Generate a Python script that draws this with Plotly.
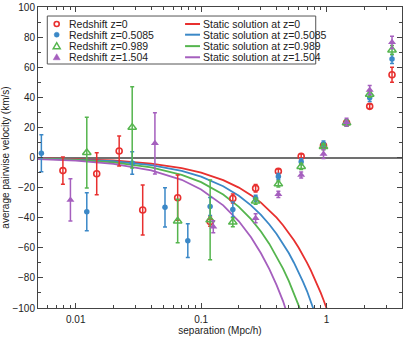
import plotly.graph_objects as go

FONT_FAMILY = "Liberation Sans, Arial, sans-serif"

REDSHIFTS = ["0", "0.5085", "0.989", "1.504"]
COLORS = ["#e8302f", "#3b88c7", "#55b54e", "#a55fbe"]

# measured average pairwise velocity (km/s) vs separation (Mpc/h)
SEP_Z0 = [0.0079, 0.0147, 0.0222, 0.0342, 0.065, 0.118, 0.179, 0.272, 0.413, 0.628, 0.946, 1.445, 2.21, 3.33]
VEL_Z0 = [-8.7, -10.8, 4.3, -34.9, -26.7, -42.6, -27.2, -20.5, -9.2, 0.8, 8.0, 23.0, 34.0, 55.0]
ERR_Z0 = [9.0, 14.0, 10.0, 16.6, 15.0, 3.0, 3.0, 2.5, 1.5, 1.5, 1.5, 1.5, 1.5, 5.0]

SEP_Z05 = [0.00532, 0.01225, 0.0282, 0.0515, 0.0783, 0.118, 0.179, 0.272, 0.413, 0.628, 0.946, 1.445, 2.21, 3.33]
VEL_Z05 = [2.8, -36.0, -3.6, -33.1, -55.3, -32.5, -34.5, -27.0, -12.7, -2.8, 9.0, 23.0, 39.7, 65.4]
ERR_Z05 = [12.3, 12.6, 7.5, 13.0, 11.2, 6.0, 5.0, 2.0, 2.0, 2.0, 2.0, 2.0, 2.5, 3.0]

SEP_Z1 = [0.01225, 0.0282, 0.065, 0.118, 0.179, 0.272, 0.413, 0.628, 0.946, 1.445, 2.21, 3.33]
VEL_Z1 = [3.2, 20.0, -42.2, -41.5, -43.0, -29.0, -17.6, -6.0, 7.2, 23.0, 42.0, 71.4]
ERR_Z1 = [23.5, 27.0, 14.5, 26.5, 3.0, 2.0, 2.0, 2.0, 2.0, 2.0, 2.0, 3.0]

SEP_Z15 = [0.00907, 0.0428, 0.125, 0.272, 0.413, 0.628, 0.946, 1.445, 2.21, 3.33]
VEL_Z15 = [-28.2, 9.4, -46.0, -40.4, -24.5, -11.6, 2.3, 23.5, 44.8, 76.5]
ERR_Z15 = [14.0, 20.3, 4.0, 3.0, 2.0, 2.0, 3.0, 2.5, 3.0, 4.0]

# static solution curves
SEP_STATIC = [0.005, 0.01, 0.02, 0.04, 0.07, 0.1, 0.15, 0.2, 0.25, 0.3, 0.35, 0.4, 0.45,
              0.5, 0.55, 0.6, 0.65, 0.7, 0.75, 0.8, 0.85, 0.9, 0.95, 1.0, 1.05]
STATIC_Z0 = [-0.5, -1, -2, -4, -7, -10, -15, -20, -25, -30, -35, -40, -45,
             -50, -55, -60, -65, -70, -75, -80, -85, -90, -95, -100, -105]
STATIC_Z05 = [-0.6, -1.3, -2.5, -5.1, -8.9, -12.7, -19.1, -25.4, -31.8, -38.1, -44.5, -50.8, -57.2,
              -63.5, -69.9, -76.2, -82.6, -88.9, -95.3, -101.6, -108, -114.3, -120.7, -127, -133.4]
STATIC_Z1 = [-0.8, -1.6, -3.3, -6.6, -11.5, -16.4, -24.6, -32.8, -41, -49.2, -57.4, -65.6, -73.8,
             -82, -90.2, -98.4, -106.6, -114.8, -123, -131.2, -139.4, -147.6, -155.8, -164, -172.2]
STATIC_Z15 = [-1.1, -2.1, -4.2, -8.5, -14.8, -21.2, -31.8, -42.4, -53, -63.6, -74.2, -84.8, -95.4,
              -106, -116.6, -127.2, -137.8, -148.4, -159, -169.6, -180.2, -190.8, -201.4, -212, -222.6]

MEASURED = [(SEP_Z0, VEL_Z0, ERR_Z0), (SEP_Z05, VEL_Z05, ERR_Z05),
            (SEP_Z1, VEL_Z1, ERR_Z1), (SEP_Z15, VEL_Z15, ERR_Z15)]
STATIC = [STATIC_Z0, STATIC_Z05, STATIC_Z1, STATIC_Z15]

SYMBOLS = [
    {"symbol": "circle-open", "size": 6, "line": {"width": 1.6}},
    {"symbol": "circle", "size": 5.5, "line": {"width": 0}},
    {"symbol": "triangle-up-open", "size": 7.5, "line": {"width": 1.5}},
    {"symbol": "triangle-up", "size": 7, "line": {"width": 0}},
]

fig = go.Figure()

for i, z in enumerate(REDSHIFTS):
    fig.add_trace(
        go.Scatter(
            x=SEP_STATIC, y=STATIC[i], mode="lines", name=f"Static solution at z={z}",
            line={"color": COLORS[i], "width": 1.8}, showlegend=False,
        )
    )

for i, z in enumerate(REDSHIFTS):
    sep, vel, err = MEASURED[i]
    marker = dict(SYMBOLS[i])
    marker["color"] = COLORS[i]
    marker["line"] = dict(marker["line"], color=COLORS[i])
    fig.add_trace(
        go.Scatter(
            x=sep, y=vel, mode="markers", name=f"Redshift z={z}", marker=marker,
            error_y={"type": "data", "array": err, "color": COLORS[i], "thickness": 1.5, "width": 2},
            showlegend=False,
        )
    )

# hand-made legend box (plotly legend rows are too tall for this layout)
ROW_Y = [0.9435, 0.908, 0.870, 0.833]
fig.add_shape(type="rect", xref="paper", yref="paper", x0=0.0255, x1=0.763, y0=0.8106, y1=0.970,
              line={"color": "#555", "width": 1}, fillcolor="white", layer="above")
for i, z in enumerate(REDSHIFTS):
    ry = ROW_Y[i]
    c = COLORS[i]
    base = {"xref": "paper", "yref": "paper", "xsizemode": "pixel", "ysizemode": "pixel",
            "xanchor": 0.0514, "yanchor": ry, "layer": "above"}
    if i == 0:
        fig.add_shape(type="circle", x0=-2.5, x1=2.5, y0=-2.5, y1=2.5,
                      line={"color": c, "width": 1.6}, fillcolor="white", **base)
    elif i == 1:
        fig.add_shape(type="circle", x0=-2.5, x1=2.5, y0=-2.5, y1=2.5,
                      line={"color": c, "width": 0.5}, fillcolor=c, **base)
    elif i == 2:
        fig.add_shape(type="path", path="M -3.5,-2.5 L 3.5,-2.5 L 0,3.5 Z",
                      line={"color": c, "width": 1.5}, fillcolor="white", **base)
    else:
        fig.add_shape(type="path", path="M -3.5,-2.5 L 3.5,-2.5 L 0,3.5 Z",
                      line={"color": c, "width": 0.5}, fillcolor=c, **base)
    fig.add_annotation(text=f"Redshift z={z}", xref="paper", yref="paper", x=0.0788, y=ry,
                       xanchor="left", yanchor="middle", showarrow=False,
                       font={"size": 10.5, "color": "#222"})
    fig.add_shape(type="line", xref="paper", yref="paper", x0=0.404, x1=0.445, y0=ry, y1=ry,
                  line={"color": c, "width": 2}, layer="above")
    fig.add_annotation(text=f"Static solution at z={z}", xref="paper", yref="paper", x=0.448, y=ry,
                       xanchor="left", yanchor="middle", showarrow=False,
                       font={"size": 10.5, "color": "#222"})

minor_x = [m * 10 ** e for e in (-3, -2, -1, 0) for m in range(2, 10)]

fig.update_layout(
    width=415,
    height=338,
    margin={"l": 38, "r": 13, "t": 7, "b": 30, "autoexpand": False},
    plot_bgcolor="white",
    paper_bgcolor="white",
    font={"family": FONT_FAMILY, "size": 10, "color": "#222"},
    showlegend=False,
)
fig.update_xaxes(
    type="log", range=[-2.301, 0.602], automargin=False,
    tickmode="array", tickvals=[0.01, 0.1, 1], ticktext=["0.01", "0.1", "1"],
    ticks="inside", ticklen=5, tickcolor="#444", ticklabelstandoff=2,
    minor={"tickmode": "array", "tickvals": minor_x, "ticks": "inside", "ticklen": 3, "tickcolor": "#444"},
    showline=True, linecolor="#444", linewidth=1, mirror="allticks",
    showgrid=False, zeroline=False,
    title={"text": "separation (Mpc/h)", "standoff": 2, "font": {"size": 10}},
)
fig.update_yaxes(
    range=[-100, 100], dtick=20, automargin=False,
    ticks="inside", ticklen=5, tickcolor="#444",
    minor={"dtick": 10, "ticks": "inside", "ticklen": 3, "tickcolor": "#444"},
    showline=True, linecolor="#444", linewidth=1, mirror="allticks",
    showgrid=False, zeroline=True, zerolinecolor="#707070", zerolinewidth=2,
    title={"text": "average pairwise velocity (km/s)", "standoff": 2, "font": {"size": 10}},
)

# drop the browser's default body margin so the figure sits at the window corner
fig.write_html("out.html", config={"displayModeBar": False},
               post_script="document.body.style.margin = '0';")
